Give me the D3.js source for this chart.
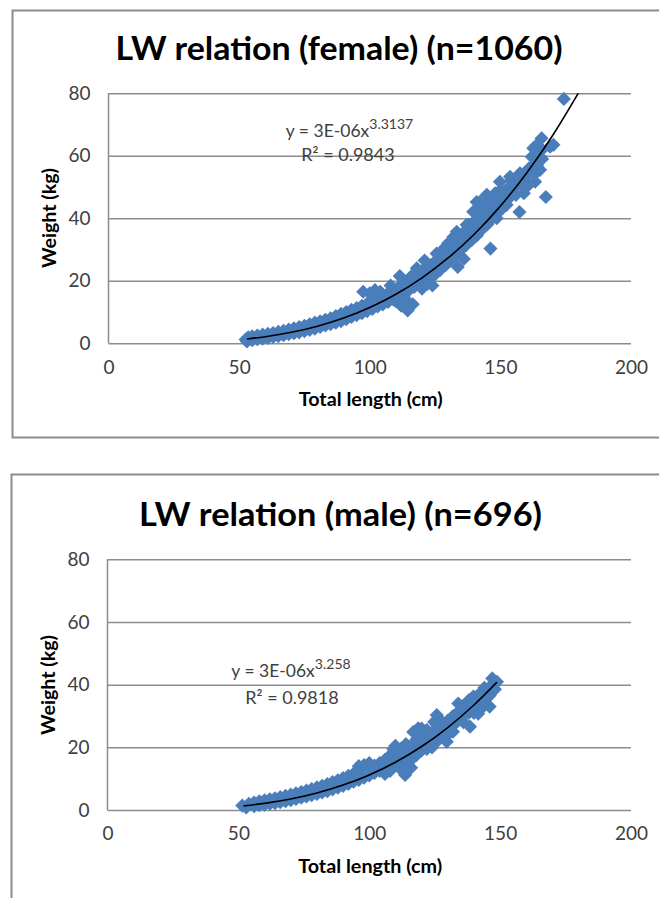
<!DOCTYPE html>
<html>
<head>
<meta charset="utf-8">
<script src="https://cdn.jsdelivr.net/npm/d3@7/dist/d3.min.js"></script>
<style>
  html, body { margin: 0; padding: 0; background: #ffffff; }
  svg { display: block; }
</style>
</head>
<body>
<svg id="chart" width="659" height="898"></svg>
<script>
// ---------------- DATA ----------------
const xTicks = [0, 50, 100, 150, 200];
const yTicks = [0, 20, 40, 60, 80];

const femaleTitle = "LW relation (female) (n=1060)";
const maleTitle = "LW relation (male) (n=696)";
const xAxisTitle = "Total length (cm)";
const yAxisTitle = "Weight (kg)";

const femaleEquation = ["y = 3E-06x", "3.3137"];
const femaleR2 = "R² = 0.9843";
const maleEquation = ["y = 3E-06x", "3.258"];
const maleR2 = "R² = 0.9818";

// female points [total length (cm), weight (kg)]
const femalePoints = [
  [52.5,1.2],[53,0.6],[53.5,1.9],[55,1.0],[55,2.2],[57,1.3],[57,2.5],[59,1.5],[59,2.8],
  [61,1.7],[61,3.0],[63,2.0],[63,3.3],[65,2.3],[65,3.7],[67,2.6],[67,4.0],[69,2.9],[69,4.4],
  [71,3.2],[71,4.8],[73,3.5],[73,5.2],[75,3.9],[75,5.6],[77,4.3],[77,6.1],[79,4.7],[79,6.6],
  [81,5.2],[81,7.0],[83,5.7],[83,7.5],[85,6.1],[85,8.0],[87,6.6],[87,8.7],[89,7.1],[89,9.4],
  [91,7.7],[91,10.0],[93,8.4],[93,10.7],[95,9.0],[95,11.3],[97,9.6],[97,12.0],[97.5,16.5],
  [99,10.3],[99,12.7],[100,16.0],[101,11.0],[101,13.5],[102.5,15.3],[103,11.8],[103,14.2],
  [105,12.4],[105,15.2],[107,13.2],[107,16.0],[109,14.0],[109,17.0],[111.5,21.5],[111,15.0],
  [111,18.0],[112,12.0],[113,15.6],[113,19.0],[114.5,10.5],[115,13.0],[115,17.0],[116.5,12.5],
  [117,18.0],[117,20.5],[119,19.0],[119,22.0],[121,20.0],[121,24.0],[121,26.5],[123,21.0],
  [123,25.0],[125,22.0],[125,26.0],[125.6,28.7],[124,18.5],[127,23.5],[127,27.5],[129,25.0],
  [129,29.0],[131,26.5],[131,30.5],[133,28.0],[133,33.5],[133.3,35.7],[133.7,24.4],[135,30.0],
  [136,27.0],[137,31.5],[137.1,37.9],[139,33.0],[139.6,42.1],[139,37.0],[140,39.0],[141,34.5],
  [140.9,36.8],[140.9,45.2],[142.2,45.3],[142,40.0],[143,36.5],[143,41.0],[144,44.0],
  [144.8,47.5],[145,38.0],[145,43.5],[146,42.0],[146,46.0],[146.2,30.3],[147,40.0],[147,45.0],
  [148.6,40.0],[148,48.0],[149,43.0],[149.8,51.7],[150,47.5],[150,49.0],[151,44.0],[152.4,44.3],
  [152,49.0],[153.7,53.3],[154,47.0],[155,51.0],[157.5,54.4],[157.3,42.0],[158,50.5],[159,48.0],
  [160,53.9],[161,51.0],[161,56.0],[162,59.7],[162.6,62.4],[163.3,51.7],[163,54.0],[164,57.0],
  [165.2,55.5],[165.8,65.6],[167.4,46.8],[169,62.9],[170.3,63.5],[174.3,78.2],
  [118,20],[120,21],[122,22.5],[124,23.5],[126,24.5],[128,26],[130,27.5],[132,29],[134,31],
  [136,32.5],[138,34.5],[140,36],[142,38],[144,39.5],[146,41],[148,43],[150,45],[152,46.5],
  [154,49],[156,50.5],[158,52.5],[160,55],[162,56],[164,60],[166,62],[136,35.5],[138,38],
  [142,43],[144,41.5],[148,46],[150,42.5],[154,52],[156,47.5],[160,50],[164,63.5],[166,59],
  [130,32],[128,30],[126,27],[132,34],[118,24],[116,21.5],[114,19.5],[112,18],[110,13.5],
  [106,14],[104,16.5],[102,17],[108,18.5],[120,17.5],[122,19]
];

// female power trendline points
const femaleTrendLength = [53, 60, 70, 80, 90, 100, 110, 120, 130, 140, 150, 160, 170, 180.5];
const femaleTrendWeight = [1.39, 2.11, 3.51, 5.47, 8.08, 11.45, 15.7, 20.96, 27.3, 34.9, 43.9, 54.4, 66.5, 81.0];

// male points [total length (cm), weight (kg)]
const malePoints = [
  [51.5,1.4],[53,0.8],[54,2.0],[56,1.2],[56,2.4],[58,1.5],[58,2.8],[60,1.7],[60,3.1],
  [62,2.0],[62,3.4],[64,2.2],[64,3.7],[66,2.5],[66,4.1],[68,2.8],[68,4.5],[70,3.1],[70,4.9],
  [72,3.5],[72,5.3],[74,3.9],[74,5.7],[76,4.3],[76,6.2],[78,4.7],[78,6.7],[80,5.1],[80,7.2],
  [82,5.6],[82,7.7],[84,6.0],[84,8.3],[86,6.6],[86,8.9],[88,7.1],[88,9.5],[90,7.7],[90,10.2],
  [92,8.3],[92,10.9],[94,9.0],[94,11.6],[96,9.6],[96,12.3],[98,14.3],[98,10.3],[100,11.0],
  [100,13.5],[102,11.8],[102,14.2],[104,12.5],[104,15.0],[106,13.3],[106,16.0],[108,14.2],
  [108,17.5],[109.2,19.5],[110,15.0],[110,18.5],[112,15.5],[112,19.5],[113.7,11.2],[114,17.0],
  [114,21.0],[115,13.0],[116,18.5],[116.8,24.9],[118,20.0],[118.7,26.1],[120,21.5],[120,24.0],
  [122,19.5],[122,23.0],[124,22.0],[124.8,28.1],[125.8,30.3],[126,24.5],[128,26.0],[129.6,21.8],
  [130,24.0],[130,28.5],[132,27.0],[132,30.0],[134.7,31.9],[136,30.5],[138.5,26.6],[139.8,36.2],
  [140,31.0],[141.6,30.7],[142.3,31.9],[143,35.0],[144.9,37.2],[146,36.5],[147.4,40.4],[148.8,40.9],
  [104,13.8],[106,14.5],[108,16],[110,16.5],[112,17.5],[114,19],[116,20.5],[116,16],[118,22.5],
  [118,17.5],[120,19],[120,26],[122,25.5],[122,21],[124,24.5],[124,20],[126,27],[126,22],
  [128,28],[128,23.5],[130,26],[132,25],[134,28.5],[134,34],[136,33],[136,28],[138,31],[138,35],
  [140,33.5],[142,34],[142,37],[144,35],[144,39],[146,39],[146,33],[148,38.5],[147,42],
  [112,13],[114,14.5],[116,13.5],[120,23],[96,14],[100,15],[110,20.5],[108,12.5],[106,11.5]
];

// male power trendline points
const maleTrendLength = [52, 60, 70, 80, 90, 100, 110, 120, 130, 140, 148.8];
const maleTrendWeight = [1.33, 2.12, 3.5, 5.41, 7.94, 11.2, 15.25, 20.25, 26.3, 33.5, 40.8];

// ---------------- DRAWING ----------------
const FONT = "Lato, 'Open Sans', 'Liberation Sans', sans-serif";
const svg = d3.select("#chart");

function drawChart(cfg) {
  const g = svg.append("g");

  // outer chart border (right / bottom edges fall outside the picture)
  g.append("rect")
    .attr("x", cfg.box[0]).attr("y", cfg.box[1])
    .attr("width", cfg.box[2]).attr("height", cfg.box[3])
    .attr("fill", "none").attr("stroke", "#8c8c8c").attr("stroke-width", 2);

  const x = d3.scaleLinear().domain([0, 200]).range([cfg.plot.left, cfg.plot.right]);
  const y = d3.scaleLinear().domain([0, 80]).range([cfg.plot.bottom, cfg.plot.top]);

  // title
  g.append("text")
    .attr("x", cfg.titleX).attr("y", cfg.titleY)
    .attr("text-anchor", "middle")
    .attr("font-family", FONT).attr("font-weight", "bold")
    .attr("font-size", 33)
    .attr("textLength", cfg.titleLen)
    .attr("lengthAdjust", "spacingAndGlyphs")
    .attr("fill", "#000")
    .text(cfg.title);

  // y gridlines + labels
  const yAxis = d3.axisLeft(y).tickValues(yTicks)
    .tickSize(-(cfg.plot.right - cfg.plot.left)).tickPadding(18);
  const ya = g.append("g").attr("transform", `translate(${cfg.plot.left},0)`).call(yAxis);
  ya.select(".domain").attr("stroke", "#8c8c8c").attr("stroke-width", 1.5)
    .attr("d", `M0,${cfg.plot.top}V${cfg.plot.bottom}`);
  ya.selectAll(".tick line").attr("stroke", "#8c8c8c").attr("stroke-width", 1.5);
  ya.selectAll(".tick text")
    .attr("font-family", FONT).attr("font-size", 19).attr("fill", "#404040");

  // x axis labels
  const xAxis = d3.axisBottom(x).tickValues(xTicks).tickSize(0).tickPadding(17);
  const xa = g.append("g").attr("transform", `translate(0,${cfg.plot.bottom})`).call(xAxis);
  xa.select(".domain").remove();
  xa.selectAll(".tick text")
    .attr("font-family", FONT).attr("font-size", 19).attr("fill", "#404040");

  // axis titles
  g.append("text")
    .attr("x", (x(0) + x(200)) / 2 + 1).attr("y", cfg.plot.bottom + 63)
    .attr("text-anchor", "middle")
    .attr("font-family", FONT).attr("font-weight", "bold").attr("font-size", 18)
    .attr("textLength", 144).attr("lengthAdjust", "spacingAndGlyphs")
    .attr("fill", "#000").text(xAxisTitle);

  g.append("text")
    .attr("transform", `translate(${cfg.yTitleX},${cfg.yTitleY}) rotate(-90)`)
    .attr("text-anchor", "middle")
    .attr("font-family", FONT).attr("font-weight", "bold").attr("font-size", 18)
    .attr("textLength", 100).attr("lengthAdjust", "spacingAndGlyphs")
    .attr("fill", "#000").text(yAxisTitle);

  // clip
  const clipId = "clip-" + cfg.id;
  g.append("clipPath").attr("id", clipId)
    .append("rect")
    .attr("x", cfg.plot.left - 10).attr("y", cfg.plot.top)
    .attr("width", cfg.plot.right - cfg.plot.left + 20)
    .attr("height", cfg.plot.bottom - cfg.plot.top + 10);

  // points (diamonds)
  const diamond = d3.symbol().type(d3.symbolSquare).size(100);
  g.append("g")
    .selectAll("path")
    .data(cfg.points)
    .join("path")
    .attr("d", diamond)
    .attr("transform", d => `translate(${x(d[0])},${y(d[1])}) rotate(45)`)
    .attr("fill", "#4a7ebb");

  // trendline
  const trend = cfg.trendX.map((v, i) => [v, cfg.trendY[i]]);
  const line = d3.line().x(d => x(d[0])).y(d => y(d[1])).curve(d3.curveMonotoneX);
  g.append("path")
    .attr("clip-path", `url(#${clipId})`)
    .attr("d", line(trend))
    .attr("fill", "none").attr("stroke", "#000").attr("stroke-width", 1.6);

  // equation
  const eq = g.append("text")
    .attr("x", cfg.eqX).attr("y", cfg.eqY)
    .attr("text-anchor", "middle")
    .attr("font-family", FONT).attr("font-size", 17.5).attr("fill", "#404040");
  eq.append("tspan").text(cfg.eq[0]);
  eq.append("tspan").attr("font-size", 14).attr("dy", -8).text(cfg.eq[1]);

  g.append("text")
    .attr("x", cfg.r2X).attr("y", cfg.eqY + cfg.r2Gap)
    .attr("text-anchor", "middle")
    .attr("font-family", FONT).attr("font-size", 18).attr("fill", "#404040")
    .text(cfg.r2);
}

drawChart({
  id: "f",
  box: [12.5, 10.5, 700, 427],
  plot: { left: 108.5, right: 631, top: 93.3, bottom: 343.3 },
  title: femaleTitle, titleX: 339, titleY: 60, titleLen: 447,
  yTitleX: 56, yTitleY: 218,
  points: femalePoints,
  trendX: femaleTrendLength, trendY: femaleTrendWeight,
  eq: femaleEquation, r2: femaleR2,
  eqX: 349.5, eqY: 137, r2X: 348, r2Gap: 24
});

drawChart({
  id: "m",
  box: [11.5, 474.5, 700, 500],
  plot: { left: 107.5, right: 631, top: 559.3, bottom: 810 },
  title: maleTitle, titleX: 340.5, titleY: 526, titleLen: 403,
  yTitleX: 55, yTitleY: 685,
  points: malePoints,
  trendX: maleTrendLength, trendY: maleTrendWeight,
  eq: maleEquation, r2: maleR2,
  eqX: 291, eqY: 677, r2X: 292, r2Gap: 27
});
</script>
</body>
</html>
